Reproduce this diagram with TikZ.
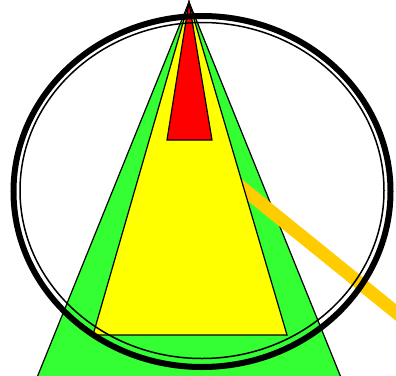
\documentclass[tikz,border=0pt]{standalone}
\usepackage{xcolor}
\usepackage{tikz}
\definecolor{wedgegreen}{RGB}{51,255,51}
\definecolor{wedgeyellow}{RGB}{255,255,0}
\definecolor{wedgered}{RGB}{255,0,0}
\definecolor{beamorange}{RGB}{255,204,0}

\begin{document}
\begin{tikzpicture}[
  x=1pt, y=-1pt,
  wedge/.style={draw=black, line width=1.2pt, line join=miter},
  beam/.style={draw=beamorange, line width=13pt},
  rimout/.style={draw=black, line width=6pt},
  rimin/.style={draw=black, line width=1.5pt}
]
\useasboundingbox (0,0) rectangle (396,375);
\clip (0,0) rectangle (396,375);
\coordinate (apex) at (189,2);
% nested wedges
\filldraw[wedge, fill=wedgegreen] (apex) -- (36,380) -- (342,380) -- cycle;
\draw[beam] (225,174) -- (430,340);
\filldraw[wedge, fill=wedgeyellow] (apex) -- (93,335) -- (287,335) -- cycle;
\filldraw[wedge, fill=wedgered] (apex) -- (167,140) -- (212,140) -- cycle;
% double rim
\draw[rimout] (202,191.5) ellipse [x radius=188.5, y radius=175.5];
\draw[rimin] (202,190.5) ellipse [x radius=182, y radius=168];
\end{tikzpicture}
\end{document}
